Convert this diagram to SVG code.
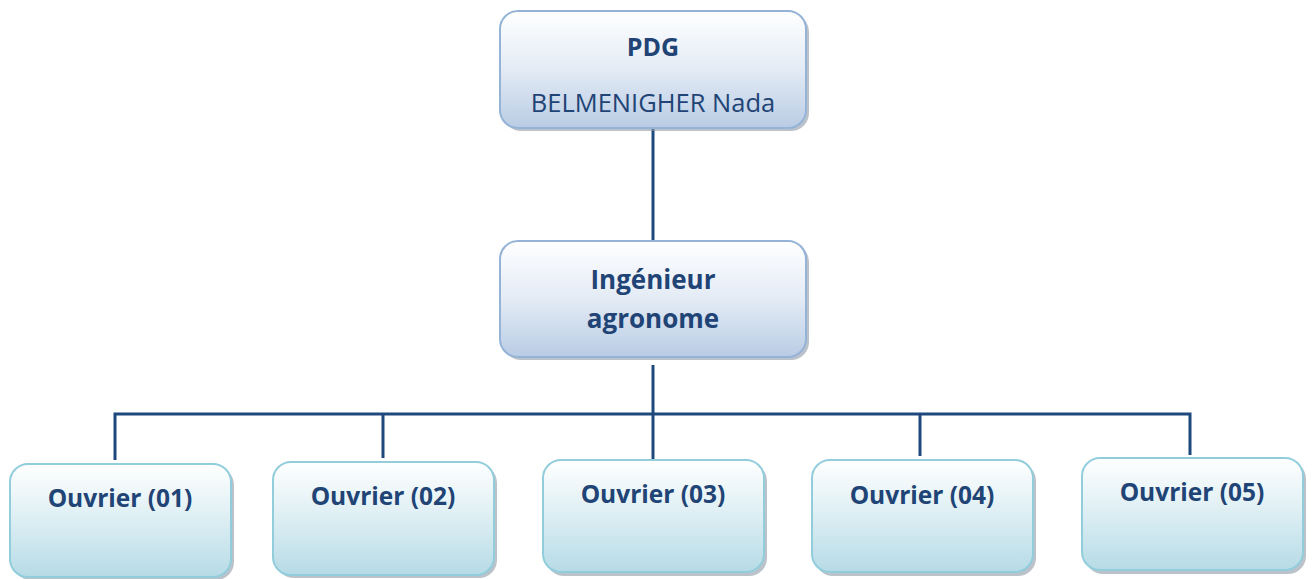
<svg xmlns="http://www.w3.org/2000/svg" width="1312" height="579" viewBox="0 0 1312 579">
<defs>
<linearGradient id="gTop" x1="0" y1="0" x2="0" y2="1">
<stop offset="0" stop-color="#ffffff"/><stop offset="0.5" stop-color="#e3ebf5"/><stop offset="1" stop-color="#b9cce4"/>
</linearGradient>
<linearGradient id="gW" x1="0" y1="0" x2="0" y2="1">
<stop offset="0" stop-color="#ffffff"/><stop offset="0.5" stop-color="#dcEEf3"/><stop offset="1" stop-color="#b6dbe6"/>
</linearGradient>
</defs>
<style>
.shadow{fill:#8f9aa6;opacity:0.6}
.top{fill:url(#gTop);stroke:#95b3d7;stroke-width:2}
.wk{fill:url(#gW);stroke:#92cddc;stroke-width:2}
.t{font-family:"Open Sans","Noto Sans",sans-serif;fill:#1f4475;text-anchor:middle}
.b{font-weight:bold}
.w{font-size:24.5px;font-weight:bold}
.ln{stroke:#1f497d;stroke-width:3;fill:none}
</style>
<g id="connectors">
<path class="ln" d="M653 128V241"/>
<path class="ln" d="M653 365V460"/>
<path class="ln" d="M115 460V414H1190V455"/>
<path class="ln" d="M383 414V458"/>
<path class="ln" d="M920 414V456"/>
</g>
<g id="pdg">
<rect class="shadow" x="503" y="14" width="306" height="117" rx="18"/>
<rect class="top" x="500" y="11" width="306" height="117" rx="18"/>
<text class="t b" x="653" y="56" font-size="25">PDG</text>
<text class="t" x="653" y="112" font-size="25.5">BELMENIGHER Nada</text>
</g>
<g id="ingenieur">
<rect class="shadow" x="503" y="244" width="306" height="116" rx="18"/>
<rect class="top" x="500" y="241" width="306" height="116" rx="18"/>
<text class="t b" x="653" y="289" font-size="26">Ingénieur</text>
<text class="t b" x="653" y="328" font-size="26">agronome</text>
</g>
<g id="ouvrier01">
<rect class="shadow" x="13" y="467" width="221" height="113" rx="18"/>
<rect class="wk" x="10" y="464" width="221" height="113" rx="18"/>
<text class="t w" x="120" y="507">Ouvrier (01)</text>
</g>
<g id="ouvrier02">
<rect class="shadow" x="276" y="465" width="221" height="113" rx="18"/>
<rect class="wk" x="273" y="462" width="221" height="113" rx="18"/>
<text class="t w" x="383" y="505">Ouvrier (02)</text>
</g>
<g id="ouvrier03">
<rect class="shadow" x="546" y="463" width="221" height="113" rx="18"/>
<rect class="wk" x="543" y="460" width="221" height="112" rx="18"/>
<text class="t w" x="653" y="503">Ouvrier (03)</text>
</g>
<g id="ouvrier04">
<rect class="shadow" x="815" y="463" width="221" height="113" rx="18"/>
<rect class="wk" x="812" y="460" width="221" height="112" rx="18"/>
<text class="t w" x="922" y="504">Ouvrier (04)</text>
</g>
<g id="ouvrier05">
<rect class="shadow" x="1085" y="461" width="221" height="113" rx="18"/>
<rect class="wk" x="1082" y="458" width="221" height="112" rx="18"/>
<text class="t w" x="1192" y="501">Ouvrier (05)</text>
</g>
</svg>
